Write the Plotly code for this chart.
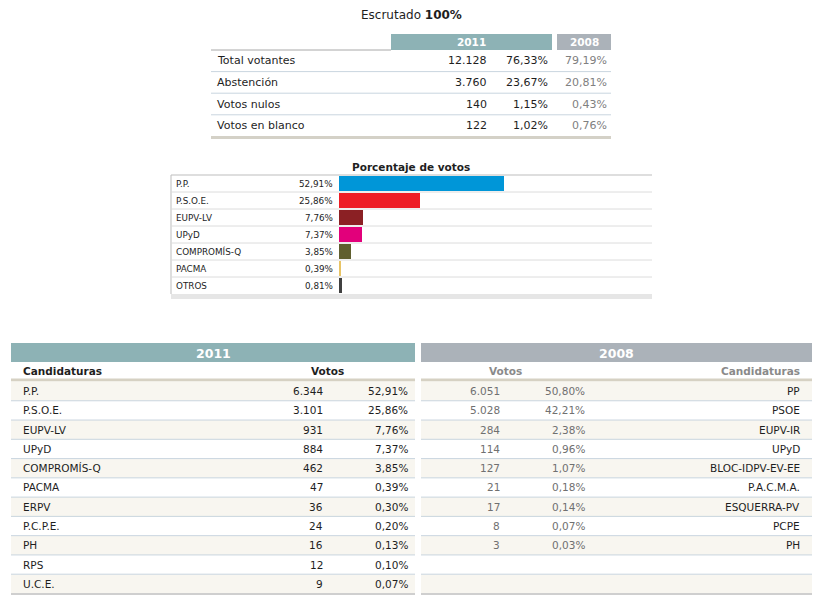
import plotly.graph_objects as go

# ---- data ----
top_labels = ["Total votantes", "Abstención", "Votos nulos", "Votos en blanco"]
top_votes_2011 = [12128, 3760, 140, 122]
top_pct_2011 = [76.33, 23.67, 1.15, 1.02]
top_pct_2008 = [79.19, 20.81, 0.43, 0.76]

bar_parties = ["P.P.", "P.S.O.E.", "EUPV-LV", "UPyD", "COMPROMÍS-Q", "PACMA", "OTROS"]
bar_pcts = [52.91, 25.86, 7.76, 7.37, 3.85, 0.39, 0.81]
bar_colors = ["#0096d8", "#ee1d25", "#8b2024", "#e2007b", "#605f2f", "#e8c466", "#404040"]

parties_2011 = ["P.P.", "P.S.O.E.", "EUPV-LV", "UPyD", "COMPROMÍS-Q", "PACMA",
                "ERPV", "P.C.P.E.", "PH", "RPS", "U.C.E."]
votes_2011 = [6344, 3101, 931, 884, 462, 47, 36, 24, 16, 12, 9]
pct_2011 = [52.91, 25.86, 7.76, 7.37, 3.85, 0.39, 0.30, 0.20, 0.13, 0.10, 0.07]

parties_2008 = ["PP", "PSOE", "EUPV-IR", "UPyD", "BLOC-IDPV-EV-EE", "P.A.C.M.A.",
                "ESQUERRA-PV", "PCPE", "PH"]
votes_2008 = [6051, 5028, 284, 114, 127, 21, 17, 8, 3]
pct_2008 = [50.80, 42.21, 2.38, 0.96, 1.07, 0.18, 0.14, 0.07, 0.03]

# the page body has an 8px margin, so the figure is a bit smaller than the window
OFF = 8
W, H = 822 - 2 * OFF, 603 - 2 * OFF
FONT = "DejaVu Sans"
TEAL = "#8db2b5"
GREY = "#abb2b9"
BEIGE = "#f8f6f0"
SEP = "#c9d5df"
DARK = "#1e1e1e"
MUTED = "#808080"


def miles(n):
    return f"{n:,}".replace(",", ".")


def pct(v):
    return f"{v:.2f}".replace(".", ",") + "%"


# window pixel -> paper coords
def fx(x):
    return (x - OFF) / W


def fy(y):
    return 1 - (y - OFF) / H


annotations = []
shapes = []


def text(x, y, s, anchor="left", size=10.5, color=DARK, bold=False, yref="paper"):
    annotations.append(dict(
        x=fx(x), y=fy(y) if yref == "paper" else y, xref="paper", yref=yref,
        text=f"<b>{s}</b>" if bold else s, showarrow=False,
        xanchor=anchor, yanchor="middle", borderpad=0,
        font=dict(family=FONT, size=size, color=color)))


def rect(x0, y0, x1, y1, fill):
    shapes.append(dict(type="rect", xref="paper", yref="paper",
                       x0=fx(x0), x1=fx(x1), y0=fy(y0), y1=fy(y1),
                       fillcolor=fill, line=dict(width=0), layer="below"))


def hline(x0, x1, y, color, width=1):
    shapes.append(dict(type="line", xref="paper", yref="paper",
                       x0=fx(x0), x1=fx(x1), y0=fy(y), y1=fy(y),
                       line=dict(color=color, width=width), layer="below"))


# ---- title + summary table ----
text(411, 15, "Escrutado <b>100%</b>", anchor="center", size=12)

rect(391, 34, 552, 50, TEAL)
rect(557, 34, 611, 50, GREY)
text(471, 42, "2011", anchor="center", size=10.5, color="white", bold=True)
text(584, 42, "2008", anchor="center", size=10.5, color="white", bold=True)
hline(211, 391, 50, "#a8a8a8")

row_h = 21.6
for i, lab in enumerate(top_labels):
    yc = 50 + row_h * (i + 0.5)
    text(216, yc, lab, size=11)
    text(488, yc, miles(top_votes_2011[i]), anchor="right", size=11)
    text(549, yc, pct(top_pct_2011[i]), anchor="right", size=11)
    text(608, yc, pct(top_pct_2008[i]), anchor="right", size=11, color=MUTED)
    if i < len(top_labels) - 1:
        hline(211, 611, 50 + row_h * (i + 1), SEP)
hline(211, 611, 50 + row_h * len(top_labels) + 1, "#d4d1c7", 3)

# ---- bar chart ----
bar_top, bar_row = 175, 17
bar_bottom = bar_top + bar_row * len(bar_parties)

text(411, 167, "Porcentaje de votos", anchor="center", size=10.5, bold=True)
hline(171, 652, bar_top, "#bdbdbd")
rect(171, bar_bottom, 652, bar_bottom + 5, "#e6e6e6")
shapes.append(dict(type="line", xref="paper", yref="paper",
                   x0=fx(171), x1=fx(171), y0=fy(bar_top), y1=fy(bar_bottom),
                   line=dict(color="#bdbdbd", width=1), layer="below"))
for k in range(len(bar_parties) - 1):
    shapes.append(dict(type="line", xref="paper", yref="y",
                       x0=fx(171), x1=fx(652), y0=k + 0.5, y1=k + 0.5,
                       line=dict(color="#dcdcdc", width=1), layer="below"))

for name, v in zip(bar_parties, bar_pcts):
    text(175, name, name, size=8.8, yref="y")
    text(334, name, pct(v), anchor="right", size=8.8, yref="y")

fig = go.Figure(go.Bar(
    x=bar_pcts, y=bar_parties, orientation="h",
    marker=dict(color=bar_colors, line=dict(width=0)),
    width=0.94, hoverinfo="skip"))

# ---- detailed tables ----
head_top, head_bot = 343, 362
sub_bot = 380
det_row = 19.27
n_rows = len(parties_2011)

tables = [(11, 415, TEAL, "2011"), (421, 812, GREY, "2008")]
for x0, x1, col, year in tables:
    rect(x0, head_top, x1, head_bot, col)
    text((x0 + x1) / 2, (head_top + head_bot) / 2 + 0.5, year,
         anchor="center", size=12.5, color="white", bold=True)
    hline(x0, x1, sub_bot, "#d6d1c3", 3)
    for i in range(n_rows):
        y0 = sub_bot + 1.5 + det_row * i
        if i % 2 == 0:
            rect(x0, y0, x1, y0 + det_row, BEIGE)
        if i > 0:
            hline(x0, x1, y0, SEP)
    hline(x0, x1, sub_bot + 1.5 + det_row * n_rows + 1, "#cfcfcf", 3)

text(22, 371, "Candidaturas", bold=True)
text(327, 371, "Votos", anchor="center", bold=True)
text(506, 371, "Votos", anchor="center", bold=True, color="#8a8a8a")
text(801, 371, "Candidaturas", anchor="right", bold=True, color="#8a8a8a")

for i, name in enumerate(parties_2011):
    yc = sub_bot + 1.5 + det_row * (i + 0.5)
    text(22, yc, name)
    text(324, yc, miles(votes_2011[i]), anchor="right")
    text(409, yc, pct(pct_2011[i]), anchor="right")

for i, name in enumerate(parties_2008):
    yc = sub_bot + 1.5 + det_row * (i + 0.5)
    text(501, yc, miles(votes_2008[i]), anchor="right", color="#707070")
    text(586, yc, pct(pct_2008[i]), anchor="right", color="#707070")
    text(801, yc, name, anchor="right")

fig.update_layout(
    width=W, height=H,
    margin=dict(l=0, r=0, t=0, b=0),
    paper_bgcolor="white", plot_bgcolor="rgba(0,0,0,0)",
    showlegend=False,
    xaxis=dict(domain=[fx(339), fx(651)], range=[0, 100], visible=False,
               fixedrange=True),
    yaxis=dict(domain=[fy(bar_bottom), fy(bar_top)], visible=False,
               categoryorder="array", categoryarray=bar_parties,
               autorange="reversed", fixedrange=True),
    annotations=annotations,
    shapes=shapes,
    bargap=0,
)

fig.write_html("out.html")
